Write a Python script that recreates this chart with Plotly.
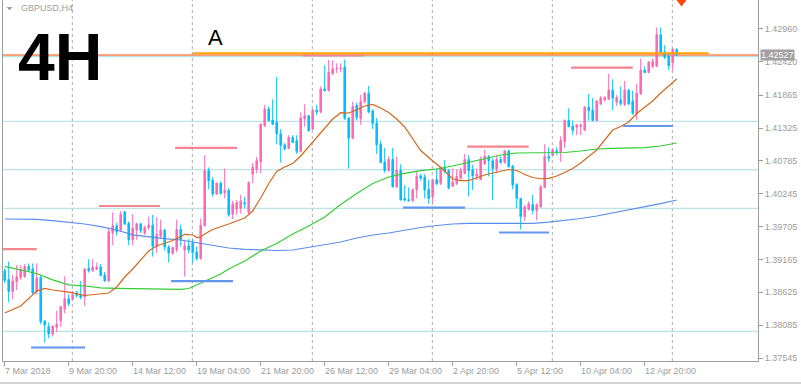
import plotly.graph_objects as go

# ---------------- data (GBPUSD H4) ----------------
opens = [1.3898,1.3884,1.3864,1.3880,1.3887,1.3888,1.3905,1.3901,1.3864,1.3887,
         1.3815,1.3806,1.3794,1.3805,1.3816,1.3835,1.3852,1.3851,1.3862,1.3858,
         1.3855,1.3902,1.3898,1.3901,1.3904,1.3891,1.3881,1.3960,1.3972,1.3965,
         1.3995,1.3976,1.3949,1.3965,1.3975,1.3960,1.3969,1.3973,1.3938,1.3955,
         1.3965,1.3937,1.3927,1.3933,1.3966,1.3932,1.3939,1.3944,1.3929,1.3918,
         1.3972,1.4063,1.4047,1.4024,1.4042,1.4026,1.4030,1.3991,1.3999,1.4001,
         1.4010,1.3994,1.4057,1.4065,1.4077,1.4136,1.4164,1.4146,1.4142,1.4123,
         1.4105,1.4099,1.4117,1.4112,1.4094,1.4148,1.4153,1.4131,1.4162,1.4159,
         1.4197,1.4194,1.4222,1.4230,1.4230,1.4233,1.4149,1.4116,1.4170,1.4148,
         1.4176,1.4190,1.4161,1.4141,1.4106,1.4077,1.4063,1.4081,1.4036,1.4063,
         1.4017,1.4015,1.4013,1.4031,1.4054,1.4052,1.4032,1.4020,1.4048,1.4042,
         1.4068,1.4063,1.4037,1.4041,1.4050,1.4058,1.4081,1.4064,1.4054,1.4048,
         1.4074,1.4086,1.4079,1.4065,1.4081,1.4076,1.4095,1.4070,1.4040,1.4017,
         1.3987,1.3999,1.4007,1.3997,1.4003,1.4035,1.4086,1.4088,1.4095,1.4092,
         1.4110,1.4145,1.4136,1.4134,1.4135,1.4129,1.4167,1.4162,1.4145,1.4172,
         1.4179,1.4180,1.4195,1.4175,1.4179,1.4171,1.4195,1.4177,1.4156,1.4189,
         1.4228,1.4224,1.4234,1.4234,1.4286,1.4258,1.4251,1.4240,1.4262]
highs = [1.3902,1.3913,1.3891,1.3907,1.3907,1.3909,1.3910,1.3910,1.3910,1.3891,
         1.3817,1.3813,1.3808,1.3832,1.3840,1.3889,1.3859,1.3865,1.3865,1.3881,
         1.3902,1.3917,1.3917,1.3911,1.3909,1.3896,1.3969,1.3994,1.3977,1.3996,
         1.3996,1.3979,1.3991,1.3977,1.3977,1.3972,1.3987,1.3990,1.3986,1.3982,
         1.3967,1.3940,1.3938,1.3982,1.3974,1.3949,1.3950,1.3950,1.3938,1.3984,
         1.4088,1.4068,1.4052,1.4043,1.4045,1.4066,1.4034,1.4013,1.4014,1.4023,
         1.4020,1.4045,1.4075,1.4085,1.4140,1.4171,1.4168,1.4180,1.4217,1.4131,
         1.4108,1.4121,1.4121,1.4121,1.4158,1.4172,1.4154,1.4164,1.4171,1.4201,
         1.4236,1.4245,1.4244,1.4239,1.4239,1.4245,1.4151,1.4176,1.4174,1.4187,
         1.4192,1.4202,1.4163,1.4149,1.4112,1.4100,1.4086,1.4100,1.4086,1.4073,
         1.4039,1.4035,1.4034,1.4061,1.4057,1.4057,1.4048,1.4048,1.4066,1.4069,
         1.4080,1.4065,1.4066,1.4065,1.4068,1.4090,1.4088,1.4072,1.4066,1.4086,
         1.4097,1.4088,1.4083,1.4088,1.4086,1.4097,1.4097,1.4072,1.4042,1.4018,
         1.4006,1.4012,1.4023,1.4009,1.4039,1.4106,1.4101,1.4099,1.4101,1.4119,
         1.4147,1.4165,1.4145,1.4139,1.4140,1.4169,1.4189,1.4182,1.4179,1.4185,
         1.4185,1.4222,1.4213,1.4187,1.4201,1.4210,1.4197,1.4194,1.4206,1.4247,
         1.4234,1.4243,1.4247,1.4298,1.4298,1.4269,1.4254,1.4264,1.4264]
lows = [1.3878,1.3846,1.3851,1.3866,1.3883,1.3887,1.3897,1.3860,1.3859,1.3810,
        1.3780,1.3787,1.3790,1.3797,1.3806,1.3828,1.3840,1.3850,1.3854,1.3851,
        1.3840,1.3895,1.3896,1.3899,1.3889,1.3880,1.3880,1.3940,1.3956,1.3962,
        1.3973,1.3940,1.3940,1.3949,1.3960,1.3957,1.3965,1.3921,1.3927,1.3951,
        1.3931,1.3912,1.3924,1.3928,1.3938,1.3888,1.3927,1.3911,1.3915,1.3916,
        1.3971,1.4032,1.4020,1.4023,1.4023,1.4017,1.3987,1.3983,1.3990,1.3992,
        1.4001,1.3990,1.4042,1.4058,1.4058,1.4135,1.4143,1.4138,1.4106,1.4076,
        1.4096,1.4098,1.4108,1.4090,1.4093,1.4135,1.4127,1.4130,1.4154,1.4157,
        1.4193,1.4193,1.4220,1.4223,1.4224,1.4146,1.4066,1.4114,1.4145,1.4138,
        1.4173,1.4157,1.4131,1.4090,1.4075,1.4059,1.4061,1.4035,1.4034,1.4013,
        1.4012,1.4012,1.4012,1.4017,1.4046,1.4017,1.4008,1.4010,1.4039,1.4039,
        1.4058,1.4032,1.4036,1.4039,1.4048,1.4057,1.4020,1.4031,1.4047,1.4047,
        1.4072,1.4053,1.4014,1.4058,1.4074,1.4074,1.4068,1.4032,1.4001,1.3966,
        1.3980,1.3997,1.3991,1.3981,1.4002,1.4034,1.4077,1.4086,1.4088,1.4077,
        1.4100,1.4134,1.4121,1.4121,1.4121,1.4128,1.4145,1.4144,1.4144,1.4171,
        1.4176,1.4179,1.4162,1.4169,1.4169,1.4169,1.4171,1.4154,1.4146,1.4187,
        1.4223,1.4223,1.4231,1.4233,1.4254,1.4246,1.4228,1.4227,1.4251]
closes = [1.3882,1.3864,1.3881,1.3888,1.3900,1.3905,1.3899,1.3862,1.3886,1.3814,
          1.3809,1.3794,1.3807,1.3810,1.3839,1.3852,1.3844,1.3858,1.3857,1.3854,
          1.3901,1.3898,1.3904,1.3904,1.3890,1.3881,1.3962,1.3972,1.3962,1.3991,
          1.3975,1.3949,1.3968,1.3975,1.3964,1.3969,1.3973,1.3938,1.3957,1.3965,
          1.3937,1.3927,1.3936,1.3966,1.3949,1.3939,1.3932,1.3928,1.3918,1.3973,
          1.4063,1.4046,1.4024,1.4042,1.4025,1.4030,1.3990,1.4008,1.4010,1.4013,
          1.4008,1.4043,1.4068,1.4079,1.4139,1.4164,1.4145,1.4139,1.4123,1.4104,
          1.4098,1.4117,1.4109,1.4094,1.4149,1.4153,1.4128,1.4162,1.4159,1.4197,
          1.4194,1.4224,1.4230,1.4231,1.4231,1.4149,1.4116,1.4168,1.4150,1.4176,
          1.4190,1.4159,1.4140,1.4105,1.4076,1.4063,1.4081,1.4036,1.4063,1.4015,
          1.4014,1.4013,1.4031,1.4053,1.4050,1.4031,1.4017,1.4047,1.4041,1.4068,
          1.4061,1.4034,1.4044,1.4053,1.4063,1.4081,1.4063,1.4054,1.4057,1.4081,
          1.4086,1.4079,1.4066,1.4081,1.4076,1.4095,1.4069,1.4039,1.4017,1.3987,
          1.4003,1.4008,1.3997,1.4006,1.4036,1.4086,1.4083,1.4097,1.4093,1.4112,
          1.4145,1.4135,1.4129,1.4138,1.4138,1.4167,1.4161,1.4145,1.4177,1.4182,
          1.4183,1.4195,1.4182,1.4183,1.4173,1.4195,1.4172,1.4157,1.4190,1.4228,
          1.4224,1.4241,1.4242,1.4286,1.4257,1.4249,1.4235,1.4262,1.42527]

# moving averages (bar index, price)
ma_fast_bars = [0,4,8,10,12,16,20,24,26,28,30,32,34,36,38,40,42,44,45,47,48,49,50,52,54,56,58,60,
                62,64,66,68,70,72,74,76,78,80,82,84,86,88,90,92,94,96,98,100,102,104,106,108,110,
                112,114,116,118,120,122,124,126,128,130,132,134,136,138,140,142,144,146,148,150,
                152,154,156,158,160,162,164,166,168]
ma_fast = [1.38285,1.38400,1.38647,1.38691,1.38663,1.38630,1.38573,1.38593,1.38614,1.38713,
           1.38877,1.39009,1.39157,1.39305,1.39387,1.39428,1.39477,1.39540,1.39579,1.39568,
           1.39526,1.39535,1.39584,1.39658,1.39699,1.39749,1.39798,1.39847,1.39962,1.40176,
           1.40415,1.40612,1.40686,1.40743,1.40867,1.41015,1.41163,1.41311,1.41475,1.41579,
           1.41574,1.41623,1.41689,1.41714,1.41656,1.41582,1.41475,1.41344,1.41146,1.40957,
           1.40842,1.40735,1.40620,1.40488,1.40461,1.40461,1.40513,1.40554,1.40587,1.40620,
           1.40645,1.40628,1.40563,1.40513,1.40493,1.40500,1.40538,1.40595,1.40661,1.40752,
           1.40867,1.40966,1.41130,1.41294,1.41352,1.41426,1.41566,1.41673,1.41771,1.41903,
           1.42018,1.42133]
ma_mid_bars = [0,4,8,12,16,20,24,28,32,36,40,44,46,48,50,52,54,56,58,60,64,68,72,76,80,84,88,
               92,96,100,104,108,112,116,120,124,128,132,136,140,144,148,152,156,160,164,168]
ma_mid = [1.39053,1.38992,1.38935,1.38831,1.38749,1.38729,1.38700,1.38691,1.38685,1.38675,
          1.38675,1.38675,1.38688,1.38746,1.38803,1.38869,1.38926,1.39009,1.39074,1.39140,
          1.39305,1.39428,1.39584,1.39716,1.39864,1.40069,1.40250,1.40415,1.40521,1.40582,
          1.40625,1.40653,1.40702,1.40760,1.40817,1.40883,1.40916,1.40916,1.40924,1.40924,
          1.40949,1.40982,1.40993,1.40993,1.41003,1.41031,1.41081]
ma_slow_bars = [0,8,12,16,20,24,28,32,36,40,44,48,52,56,60,64,68,72,76,80,84,88,92,96,100,104,
                108,112,116,120,124,128,132,136,140,144,148,152,156,160,164,168]
ma_slow = [1.39831,1.39826,1.39803,1.39781,1.39749,1.39707,1.39650,1.39571,1.39535,1.39507,
           1.39486,1.39444,1.39395,1.39354,1.39333,1.39321,1.39313,1.39321,1.39362,1.39403,
           1.39453,1.39518,1.39568,1.39601,1.39650,1.39691,1.39724,1.39749,1.39760,1.39760,
           1.39760,1.39760,1.39760,1.39781,1.39806,1.39839,1.39880,1.39929,1.39979,1.40028,
           1.40085,1.40143]

# drawn levels: (start bar, end bar, price)
res_start = [-0.4, 23.6, 42.6, 74.6, 115.6, 141.6]
res_end = [8.0, 38.8, 58.1, 89.8, 131.0, 157.0]
res_price = [1.39337, 1.40045, 1.41000, 1.42519, 1.41020, 1.42319]
sup_start = [6.6, 41.6, 99.6, 123.6, 154.6]
sup_end = [20.1, 57.1, 115.1, 136.1, 167.1]
sup_price = [1.37718, 1.38811, 1.40017, 1.39609, 1.41360]
h_levels = [1.42500, 1.41437, 1.40641, 1.40007, 1.37984]
a_line = [47.1, 176.0, 1.42556]
bid = 1.42527

price_ticks = [1.42960, 1.42420, 1.41865, 1.41325, 1.40785, 1.40245,
               1.39705, 1.39165, 1.38625, 1.38085, 1.37545]
time_bars = [0, 16, 32, 48, 64, 80, 96, 112, 128, 144, 160]
time_labels = ["7 Mar 2018", "9 Mar 20:00", "14 Mar 12:00", "19 Mar 04:00", "21 Mar 20:00",
               "26 Mar 12:00", "29 Mar 04:00", "2 Apr 20:00", "5 Apr 12:00", "10 Apr 04:00",
               "12 Apr 20:00"]
grid_bars = [16.9, 46.9, 76.9, 106.9, 136.9, 166.9]

bars = list(range(len(opens)))

# ---------------- figure ----------------
W, H = 801, 385
ML, MR, MT, MB = 3, 43, 0, 24
PW, PH = W - ML - MR, H - MT - MB


def px(x):
    return (x - ML) / PW


def py(y):
    return (PH + MT - y) / PH


GRAY = "#9C9C9C"
FONT = "Liberation Sans"

fig = go.Figure()

shapes = []
for g in grid_bars:
    shapes.append(dict(type="line", xref="x", yref="paper", x0=g, x1=g, y0=0, y1=1,
                       line=dict(color="#A8A8A8", width=1, dash="3px,3px"), layer="below"))
for lv in h_levels:
    shapes.append(dict(type="line", xref="paper", yref="y", x0=0, x1=1, y0=lv, y1=lv,
                       line=dict(color="#A9DDE3", width=1), layer="below"))
shapes.append(dict(type="line", xref="paper", yref="y", x0=0, x1=1, y0=bid, y1=bid,
                   line=dict(color="#FF4500", width=1), layer="below"))
for s, e, p in zip(res_start, res_end, res_price):
    shapes.append(dict(type="line", xref="x", yref="y", x0=s, x1=e, y0=p, y1=p,
                       line=dict(color="#F4848E", width=2.2)))
for s, e, p in zip(sup_start, sup_end, sup_price):
    shapes.append(dict(type="line", xref="x", yref="y", x0=s, x1=e, y0=p, y1=p,
                       line=dict(color="#6495ED", width=2.2)))
shapes.append(dict(type="line", xref="x", yref="y", x0=a_line[0], x1=a_line[1],
                   y0=a_line[2], y1=a_line[2], line=dict(color="#FFA500", width=2)))
# small triangles
shapes.append(dict(type="path", xref="paper", yref="paper",
                   path=f"M {px(6.5)},{py(7)} L {px(12.5)},{py(7)} L {px(9.5)},{py(10.5)} Z",
                   fillcolor="#A0A0A0", line=dict(width=0)))
shapes.append(dict(type="path", xref="paper", yref="paper",
                   path=f"M {px(676.5)},{py(0)} L {px(686.5)},{py(0)} L {px(681.5)},{py(6.5)} Z",
                   fillcolor="#FF4500", line=dict(width=0)))
# bottom separator
shapes.append(dict(type="line", xref="paper", yref="paper", x0=px(0), x1=px(801),
                   y0=py(383), y1=py(383), line=dict(color="#D6D6D6", width=2)))

fig.add_trace(go.Candlestick(
    x=bars, open=opens, high=highs, low=lows, close=closes,
    increasing=dict(line=dict(color="#FF69B4", width=1), fillcolor="#FF69B4"),
    decreasing=dict(line=dict(color="#00BFFF", width=1), fillcolor="#00BFFF"),
    whiskerwidth=0, hoverinfo="skip"))

fig.add_trace(go.Scatter(x=ma_slow_bars, y=ma_slow, mode="lines",
                         line=dict(color="#5B8DEA", width=1.2), hoverinfo="skip"))
fig.add_trace(go.Scatter(x=ma_mid_bars, y=ma_mid, mode="lines",
                         line=dict(color="#32CD32", width=1.2), hoverinfo="skip"))
fig.add_trace(go.Scatter(x=ma_fast_bars, y=ma_fast, mode="lines",
                         line=dict(color="#D2691E", width=1.2), hoverinfo="skip"))

annotations = []
for b, t in zip(time_bars, time_labels):
    annotations.append(dict(xref="x", yref="paper", x=b, y=0, text=t, showarrow=False,
                            xanchor="left", yanchor="top", xshift=-2, yshift=-3,
                            font=dict(family=FONT, size=9, color=GRAY)))
annotations.append(dict(xref="paper", yref="y", x=1, y=bid, text=f"{bid:.5f}",
                        showarrow=False, xanchor="left", yanchor="middle", xshift=2,
                        bgcolor="#A0A0A0", borderpad=0,
                        font=dict(family=FONT, size=9, color="white")))
annotations.append(dict(xref="paper", yref="paper", x=px(18.5), y=py(8), text="GBPUSD,H4",
                        showarrow=False, xanchor="left", yanchor="middle",
                        font=dict(family=FONT, size=9, color=GRAY)))
annotations.append(dict(xref="paper", yref="paper", x=px(59.5), y=py(57), text="4H",
                        showarrow=False, xanchor="center", yanchor="middle",
                        font=dict(family=FONT, size=66, color="black", weight="bold")))
annotations.append(dict(xref="paper", yref="paper", x=px(215), y=py(37), text="A",
                        showarrow=False, xanchor="center", yanchor="middle",
                        font=dict(family=FONT, size=22, color="black")))

fig.update_layout(
    width=W, height=H, margin=dict(l=ML, r=MR, t=MT, b=MB),
    paper_bgcolor="white", plot_bgcolor="white", showlegend=False,
    boxgap=0.45,
    shapes=shapes, annotations=annotations,
    xaxis=dict(range=[-0.425, 188.325], showgrid=False, zeroline=False, showline=True,
               linecolor=GRAY, linewidth=1, ticks="outside", ticklen=4, tickcolor=GRAY,
               tickvals=time_bars, showticklabels=False, rangeslider=dict(visible=False),
               fixedrange=True),
    yaxis=dict(range=[1.37496, 1.43432], side="right", showgrid=False, zeroline=False,
               showline=True, mirror=True, linecolor=GRAY, linewidth=1,
               ticks="outside", ticklen=4, tickcolor=GRAY,
               tickvals=price_ticks, ticktext=[f"{v:.5f}" for v in price_ticks],
               tickfont=dict(family=FONT, size=9, color=GRAY), fixedrange=True),
)

fig.write_html("out.html", config={"displayModeBar": False, "staticPlot": True},
               post_script="document.body.style.margin='0';document.body.style.overflow='hidden';")
